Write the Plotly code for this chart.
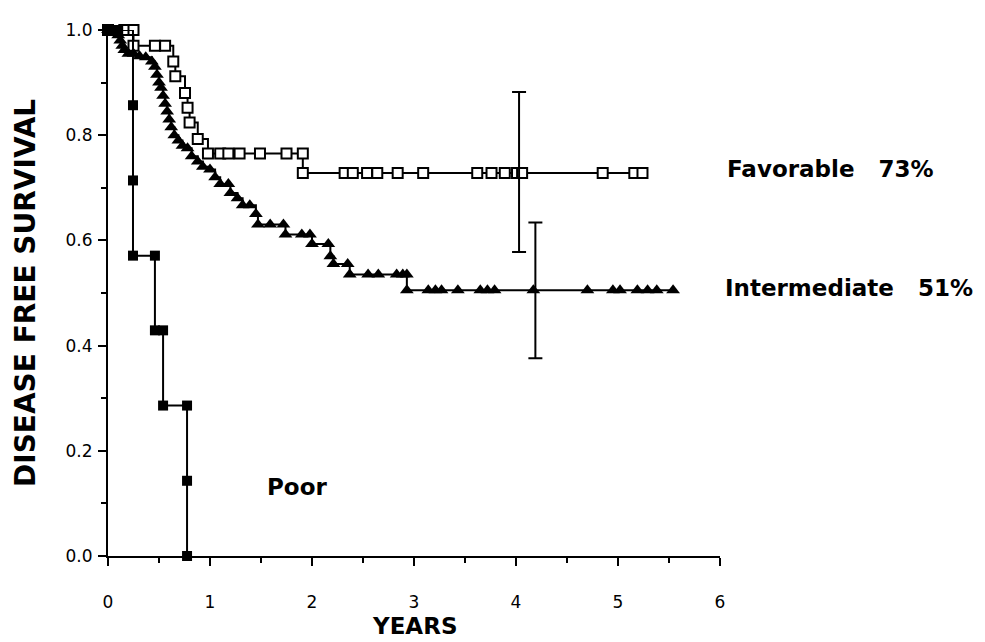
import plotly.graph_objects as go

# ---------------- data ----------------
poor_t = [0.0, 0.10, 0.245, 0.245, 0.245, 0.46, 0.46, 0.54, 0.54, 0.775, 0.775, 0.775]
poor_s = [1.0, 1.0, 0.857, 0.714, 0.571, 0.571, 0.429, 0.429, 0.286, 0.286, 0.143, 0.0]

fav_t = [0.0, 0.16, 0.25, 0.25, 0.46, 0.56, 0.64, 0.66, 0.755, 0.78, 0.80, 0.88,
         0.98, 1.10, 1.18, 1.29, 1.49, 1.75, 1.91, 1.91,
         2.32, 2.40, 2.54, 2.64, 2.84, 3.09, 3.62, 3.76, 3.89, 4.01, 4.06,
         4.85, 5.16, 5.24]
fav_s = [1.0, 1.0, 1.0, 0.970, 0.970, 0.970, 0.940, 0.912, 0.880, 0.852, 0.824, 0.793,
         0.765, 0.765, 0.765, 0.765, 0.765, 0.765, 0.765, 0.728,
         0.728, 0.728, 0.728, 0.728, 0.728, 0.728, 0.728, 0.728, 0.728, 0.728, 0.728,
         0.728, 0.728, 0.728]

int_t = [0.0, 0.05, 0.10, 0.12, 0.14, 0.16, 0.20, 0.25, 0.31, 0.37, 0.43, 0.46, 0.48,
         0.50, 0.52, 0.54, 0.56, 0.58, 0.60, 0.62, 0.65, 0.69, 0.73, 0.78, 0.82,
         0.88, 0.93, 1.00, 1.05, 1.10, 1.18, 1.20, 1.27, 1.32, 1.39, 1.45, 1.47,
         1.59, 1.72, 1.74, 1.90, 1.98, 2.00, 2.16, 2.18, 2.21, 2.35,
         2.37, 2.55, 2.65, 2.83, 2.89, 2.93,
         2.93, 3.14, 3.21, 3.27, 3.43, 3.65, 3.72, 3.79, 4.17, 4.70, 4.95, 5.02,
         5.19, 5.29, 5.38, 5.54]
int_s = [1.0, 1.0, 0.990, 0.980, 0.970, 0.962, 0.955, 0.955, 0.950, 0.948, 0.940, 0.930, 0.915,
         0.900, 0.890, 0.875, 0.860, 0.845, 0.830, 0.815, 0.800, 0.790, 0.780, 0.775, 0.760,
         0.750, 0.740, 0.735, 0.720, 0.707, 0.707, 0.690, 0.680, 0.667, 0.667, 0.650, 0.630,
         0.630, 0.630, 0.611, 0.611, 0.611, 0.593, 0.593, 0.570, 0.555, 0.555,
         0.535, 0.535, 0.535, 0.535, 0.535, 0.535,
         0.505, 0.505, 0.505, 0.505, 0.505, 0.505, 0.505, 0.505, 0.505, 0.505, 0.505, 0.505,
         0.505, 0.505, 0.505, 0.505]

# confidence intervals at ~4 years
ci_t = [4.03, 4.19]
ci_s = [0.728, 0.505]
ci_hi = [0.882, 0.634]
ci_lo = [0.578, 0.376]

x_ticks = [0, 1, 2, 3, 4, 5, 6]
y_ticks = [0.0, 0.2, 0.4, 0.6, 0.8, 1.0]

# group labels: (text, x reference, x, y in data units)
labels = ["Favorable   73%", "Intermediate   51%", "Poor"]
label_xref = ["paper", "paper", "x"]
label_x = [1.008, 1.005, 1.54]
label_y = [0.735, 0.51, 0.131]

# ---------------- figure ----------------
fig = go.Figure()

fig.add_trace(go.Scatter(
    x=fav_t, y=fav_s, mode="lines+markers", line=dict(color="black", width=2, shape="hv"),
    marker=dict(symbol="square", size=10, color="white", line=dict(color="black", width=2)),
    cliponaxis=False, showlegend=False))

fig.add_trace(go.Scatter(
    x=int_t, y=int_s, mode="lines+markers", line=dict(color="black", width=2, shape="hv"),
    marker=dict(symbol="triangle-up", size=12, color="black", line=dict(color="black", width=0)),
    cliponaxis=False, showlegend=False))

fig.add_trace(go.Scatter(
    x=poor_t, y=poor_s, mode="lines+markers", line=dict(color="black", width=2, shape="hv"),
    marker=dict(symbol="square", size=10, color="black"),
    cliponaxis=False, showlegend=False))

fig.add_trace(go.Scatter(
    x=ci_t, y=ci_s, mode="markers", marker=dict(size=1, color="rgba(0,0,0,0)"),
    error_y=dict(type="data", symmetric=False,
                 array=[h - s for h, s in zip(ci_hi, ci_s)],
                 arrayminus=[s - l for s, l in zip(ci_s, ci_lo)],
                 color="black", thickness=2, width=7),
    cliponaxis=False, showlegend=False))

for txt, xr, lx, ly in zip(labels, label_xref, label_x, label_y):
    fig.add_annotation(x=lx, y=ly, xref=xr, yref="y", text=txt, showarrow=False,
                       xanchor="left", yanchor="middle",
                       font=dict(family="DejaVu Sans", size=23, color="black", weight="bold"))

fig.add_annotation(x=0, y=0.5, xref="paper", yref="paper", text="DISEASE FREE SURVIVAL",
                   textangle=-90, showarrow=False, xanchor="center", yanchor="middle", xshift=-83,
                   font=dict(family="DejaVu Sans", size=28, color="black", weight="bold"))
fig.add_annotation(x=0.5, y=0, xref="paper", yref="paper", text="YEARS",
                   showarrow=False, xanchor="center", yanchor="bottom", yshift=-85,
                   font=dict(family="DejaVu Sans", size=23, color="black", weight="bold"))

fig.update_layout(
    width=985, height=642, autosize=False,
    margin=dict(l=100, r=273, t=13, b=94),
    plot_bgcolor="white", paper_bgcolor="white",
    font=dict(family="DejaVu Sans", color="black"),
    xaxis=dict(range=[0, 6], tickvals=x_ticks, ticktext=[str(v) for v in x_ticks],
               showgrid=False, zeroline=False, showline=True, linecolor="black", linewidth=2,
               ticks="outside", ticklen=8, tickwidth=2, tickcolor="black",
               minor=dict(ticks="outside", dtick=0.5, ticklen=5, tickwidth=2, tickcolor="black"),
               tickfont=dict(size=17), ticklabelstandoff=22),
    yaxis=dict(range=[0, 1], tickvals=y_ticks, ticktext=[f"{v:.1f}" for v in y_ticks],
               showgrid=False, zeroline=False, showline=True, linecolor="black", linewidth=2,
               ticks="outside", ticklen=8, tickwidth=2, tickcolor="black",
               minor=dict(ticks="outside", dtick=0.1, ticklen=5, tickwidth=2, tickcolor="black"),
               tickfont=dict(size=17), ticklabelstandoff=2),
)

fig.write_html("out.html")
